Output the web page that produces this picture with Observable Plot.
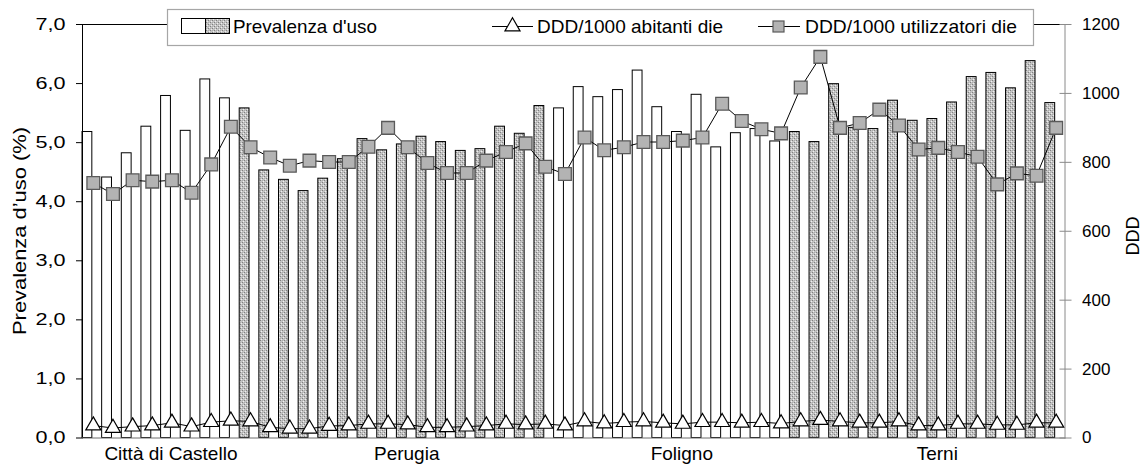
<!DOCTYPE html>
<html>
<head>
<meta charset="utf-8">
<script src="https://cdn.jsdelivr.net/npm/d3@7"></script>
<script src="https://cdn.jsdelivr.net/npm/@observablehq/plot@0.6"></script>
<style>
  body { margin: 0; background: #fff; }
  #chart svg { display: block; }
</style>
</head>
<body>
<div id="chart"></div>
<script>
// Distretti and number of periods shown for each
const districts = ["Città di Castello", "Perugia", "Foligno", "Terni"];
const districtSizes = [8, 16, 12, 14];
const districtShading = ["bianco", "retinato", "bianco", "retinato"];

// Prevalenza d'uso (%) – left axis
const prevalenza = [
  5.18, 4.41, 4.82, 5.27, 5.79, 5.20, 6.07, 5.75,
  5.58, 4.53, 4.37, 4.18, 4.39, 4.72, 5.06, 4.87, 4.97, 5.10, 5.01, 4.86, 4.89, 5.27, 5.15, 5.62,
  5.58, 5.94, 5.77, 5.89, 6.22, 5.60, 5.18, 5.81, 4.92, 5.16, 5.23, 5.02,
  5.18, 5.01, 5.99, 5.25, 5.23, 5.71, 5.37, 5.40, 5.68, 6.11, 6.18, 5.92, 6.38, 5.67
];

// DDD/1000 utilizzatori die – right axis
const dddUtilizzatori = [
  740, 708, 748, 744, 748, 712, 794, 903,
  844, 814, 790, 805, 801, 801, 845, 900, 844, 798, 769, 769, 805, 830, 855, 787,
  766, 872, 835, 844, 859, 859, 863, 872, 970, 920, 896, 884,
  1017, 1106, 900, 914, 953, 907, 837, 842, 830, 816, 736, 768, 761, 900
];

// DDD/1000 abitanti die – right axis
const dddAbitanti = [
  36, 29, 33, 36, 44, 33, 46, 50,
  48, 31, 27, 27, 35, 36, 41, 41, 39, 31, 31, 33, 36, 41, 39, 41,
  36, 48, 42, 46, 48, 44, 41, 46, 46, 44, 46, 42,
  48, 52, 48, 44, 44, 48, 36, 36, 41, 41, 38, 38, 44, 44
];

const leftTicks = [0, 1, 2, 3, 4, 5, 6, 7];
const rightTicks = [0, 200, 400, 600, 800, 1000, 1200];
const legendLabels = ["Prevalenza d'uso", "DDD/1000 abitanti die", "DDD/1000 utilizzatori die"];
const leftTitle = "Prevalenza d’uso (%)";
const rightTitle = "DDD";

const W = 1147, H = 465;
const margin = {top: 24, right: 82.5, bottom: 27.5, left: 82};
const yMax = 7, dddMax = 1200;
const k = yMax / dddMax; // DDD -> left-axis units

// one row per period, grouped by distretto
const rows = [];
districts.forEach((name, di) => {
  for (let j = 0; j < districtSizes[di]; j++) {
    const i = rows.length;
    rows.push({
      id: `${di}-${j}`,
      district: name,
      shaded: districtShading[di] === "retinato",
      prev: prevalenza[i],
      util: dddUtilizzatori[i],
      abit: dddAbitanti[i]
    });
  }
});

// each distretto name sits under its middle period
const labelById = new Map();
{
  let start = 0;
  districts.forEach((name, di) => {
    labelById.set(rows[start + Math.floor(districtSizes[di] / 2)].id, name);
    start += districtSizes[di];
  });
}

const band = (W - margin.left - margin.right) / rows.length;
const font = "'Liberation Sans', Arial, sans-serif";
const fmtComma = d => d.toFixed(1).replace(".", ",");

const plot = Plot.plot({
  width: W,
  height: H,
  marginTop: margin.top,
  marginRight: margin.right,
  marginBottom: margin.bottom,
  marginLeft: margin.left,
  style: {fontFamily: font, fontSize: "17px", background: "white", color: "black", overflow: "visible"},
  x: {type: "band", domain: rows.map(d => d.id), padding: 0, axis: null, label: null},
  y: {domain: [0, yMax], axis: null, label: null},
  marks: [
    // prevalence bars, in the left half of each period's slot
    Plot.barY(rows.filter(d => !d.shaded), {
      x: "id", y: "prev", insetLeft: 0, insetRight: band / 2,
      fill: "white", stroke: "black", strokeWidth: 1
    }),
    Plot.barY(rows.filter(d => d.shaded), {
      x: "id", y: "prev", insetLeft: 0, insetRight: band / 2,
      fill: "url(#retino)", stroke: "black", strokeWidth: 1
    }),

    // frame lines
    Plot.frame({anchor: "top", stroke: "black"}),
    Plot.frame({anchor: "left", stroke: "black"}),
    Plot.frame({anchor: "bottom", stroke: "#6e6e6e"}),
    Plot.frame({anchor: "right", stroke: "#8a8a8a"}),

    // DDD/1000 abitanti die
    Plot.line(rows, {x: "id", y: d => d.abit * k, stroke: "black", strokeWidth: 1, dx: 1}),
    Plot.dot(rows, {x: "id", y: d => d.abit * k, symbol: "triangle", r: 5.6, fill: "white", stroke: "black", strokeWidth: 1.2, dx: 1}),

    // DDD/1000 utilizzatori die
    Plot.line(rows, {x: "id", y: d => d.util * k, stroke: "black", strokeWidth: 1, dx: 1}),
    Plot.dot(rows, {x: "id", y: d => d.util * k, symbol: "square", r: 7.2, fill: "#b3b3b3", stroke: "#5a5a5a", strokeWidth: 1.3, dx: 1}),

    // left axis
    Plot.axisY({
      anchor: "left", ticks: leftTicks, tickSize: 6, tickPadding: 11, label: null,
      tickFormat: fmtComma, fontSize: 16, stroke: "black", fill: "black", className: "ax-left"
    }),
    // right axis: ticks crossing the axis line
    Plot.axisY({
      anchor: "right", ticks: rightTicks.map(v => v * k), tickSize: 12, dx: -6, tickPadding: 11, label: null,
      tickFormat: v => String(Math.round(v / k)), fontSize: 17, stroke: "#8a8a8a", fill: "black"
    }),
    // distretto names
    Plot.axisX({
      ticks: [...labelById.keys()], tickSize: 0, tickPadding: 8, label: null,
      tickFormat: id => labelById.get(id), fontSize: 19, fill: "black"
    })
  ]
});

const svg = d3.select(plot);

// wider glyphs on the left tick labels
svg.selectAll(".ax-left text")
  .attr("textLength", 30).attr("lengthAdjust", "spacingAndGlyphs");

// dotted fill used by the shaded bars
const defs = svg.insert("defs", ":first-child");
const pat = defs.append("pattern")
  .attr("id", "retino")
  .attr("patternUnits", "userSpaceOnUse")
  .attr("width", 4).attr("height", 4);
pat.append("rect").attr("width", 4).attr("height", 4).attr("fill", "#c4c4c4");
[[0, 0, "#808080"], [2, 2, "#808080"], [1, 3, "#eeeeee"], [3, 1, "#eeeeee"], [2, 0, "#ababab"], [0, 2, "#ababab"]]
  .forEach(([x, y, c]) => pat.append("rect").attr("x", x).attr("y", y).attr("width", 1).attr("height", 1).attr("fill", c));

// axis titles
svg.append("text")
  .attr("transform", `translate(19,231) rotate(-90)`)
  .attr("text-anchor", "middle").attr("dominant-baseline", "central")
  .attr("font-family", font).attr("font-size", 19)
  .attr("textLength", 208).attr("lengthAdjust", "spacingAndGlyphs")
  .text(leftTitle);
svg.append("text")
  .attr("transform", `translate(1133,236) rotate(-90)`)
  .attr("text-anchor", "middle").attr("dominant-baseline", "central")
  .attr("font-family", font).attr("font-size", 18)
  .text(rightTitle);

// legend box across the top of the plot
const lg = svg.append("g").attr("font-family", font).attr("font-size", 19).attr("text-anchor", "start");
lg.append("rect")
  .attr("x", 167.5).attr("y", 9.5).attr("width", 866).attr("height", 36)
  .attr("fill", "white").attr("stroke", "#a6a6a6").attr("stroke-width", 1.2);
const cy = 26.5;
// item 1: white + shaded swatch
lg.append("rect").attr("x", 181.5).attr("y", 18.5).attr("width", 24).attr("height", 15)
  .attr("fill", "white").attr("stroke", "black");
lg.append("rect").attr("x", 205.5).attr("y", 18.5).attr("width", 24).attr("height", 15)
  .attr("fill", "url(#retino)").attr("stroke", "black");
lg.append("text").attr("x", 233).attr("y", cy).attr("text-anchor", "start").attr("dominant-baseline", "central")
  .attr("textLength", 144).attr("lengthAdjust", "spacingAndGlyphs").text(legendLabels[0]);
// item 2: line with triangle
lg.append("line").attr("x1", 492).attr("x2", 533).attr("y1", cy).attr("y2", cy).attr("stroke", "black");
lg.append("path").attr("transform", `translate(512.5,${cy})`)
  .attr("d", d3.symbol(d3.symbolTriangle, Math.PI * 5.6 * 5.6)())
  .attr("fill", "white").attr("stroke", "black").attr("stroke-width", 1.2);
lg.append("text").attr("x", 537).attr("y", cy).attr("text-anchor", "start").attr("dominant-baseline", "central")
  .attr("textLength", 186).attr("lengthAdjust", "spacingAndGlyphs").text(legendLabels[1]);
// item 3: line with square
lg.append("line").attr("x1", 758).attr("x2", 800).attr("y1", cy).attr("y2", cy).attr("stroke", "black");
lg.append("rect").attr("x", 773).attr("y", cy - 5.5).attr("width", 11).attr("height", 11)
  .attr("fill", "#b3b3b3").attr("stroke", "#5a5a5a").attr("stroke-width", 1.2);
lg.append("text").attr("x", 805).attr("y", cy).attr("text-anchor", "start").attr("dominant-baseline", "central")
  .attr("textLength", 212).attr("lengthAdjust", "spacingAndGlyphs").text(legendLabels[2]);

document.getElementById("chart").appendChild(plot);
</script>
</body>
</html>
